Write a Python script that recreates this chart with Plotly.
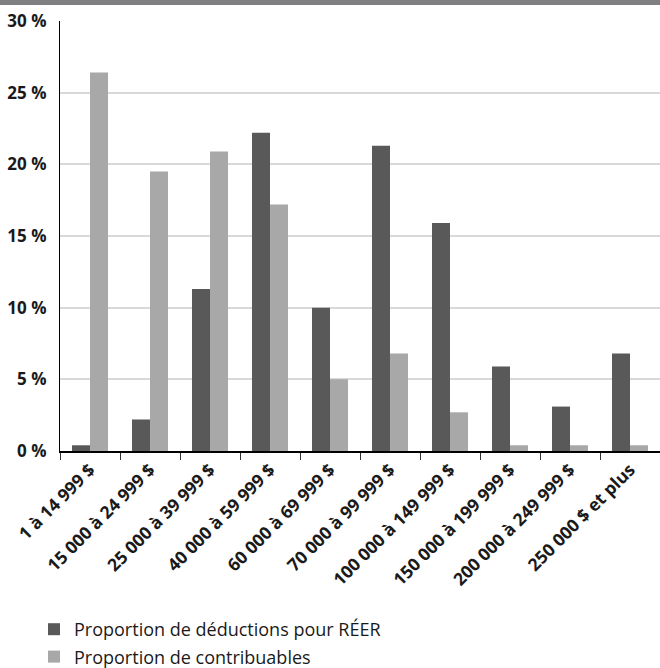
import plotly.graph_objects as go

categories = ["1 à 14 999 $", "15 000 à 24 999 $", "25 000 à 39 999 $", "40 000 à 59 999 $",
              "60 000 à 69 999 $", "70 000 à 99 999 $", "100 000 à 149 999 $",
              "150 000 à 199 999 $", "200 000 à 249 999 $", "250 000 $ et plus"]
deductions = [0.4, 2.2, 11.3, 22.2, 10.0, 21.3, 15.9, 5.9, 3.1, 6.8]
contribuables = [26.4, 19.5, 20.9, 17.2, 5.0, 6.8, 2.7, 0.4, 0.4, 0.4]
series_names = ["Proportion de déductions pour RÉER", "Proportion de contribuables"]
ytick_vals = [0, 5, 10, 15, 20, 25, 30]
ytick_text = ["0 %", "5 %", "10 %", "15 %", "20 %", "25 %", "30 %"]

W, H = 660, 668
ml, mr, mt, mb = 60, 0, 21, 217

fig = go.Figure()
fig.add_trace(go.Bar(x=categories, y=deductions, name=series_names[0], legendgroup="a",
                     marker=dict(color="#595959", line=dict(width=0))))
fig.add_trace(go.Bar(x=categories, y=contribuables, name=series_names[1], legendgroup="b",
                     marker=dict(color="#A8A8A8", line=dict(width=0))))

fig.update_layout(
    width=W, height=H,
    margin=dict(l=ml, r=mr, t=mt, b=mb, pad=0, autoexpand=False),
    paper_bgcolor="white", plot_bgcolor="white",
    barmode="group", bargap=0.4, bargroupgap=0,
    font=dict(family="Open Sans", color="#1a1a1a"),
    showlegend=True,
    legend=dict(xref="container", yref="container", x=34 / W, y=1 - 611 / H,
                xanchor="left", yanchor="top", orientation="v",
                font=dict(size=18, color="#1a1a1a"), tracegroupgap=1,
                itemsizing="constant"),
    shapes=[dict(type="rect", xref="paper", yref="paper",
                 x0=-ml / (W - ml - mr), x1=1,
                 y0=1 + (mt - 5) / (H - mt - mb), y1=1 + mt / (H - mt - mb) + 0.01,
                 fillcolor="#808083", line=dict(width=0), layer="above")],
)

fig.update_yaxes(range=[0, 30], tickvals=ytick_vals, ticktext=ytick_text,
                 showgrid=True, gridcolor="#d9d9d9", gridwidth=1.5,
                 showline=True, linecolor="black", linewidth=1.2,
                 ticks="", ticklabelstandoff=9,
                 tickfont=dict(size=17, family="Open Sans", weight="bold", color="#1a1a1a"),
                 zeroline=False)
fig.update_xaxes(tickangle=-45, showline=True, linecolor="black", linewidth=1.5,
                 ticks="outside", tickson="boundaries", ticklen=7, tickcolor="#333",
                 tickfont=dict(size=17.5, family="Open Sans", weight="bold", color="#1a1a1a"),
                 showgrid=False)

fig.write_html("out.html", config={"displayModeBar": False},
               post_script="document.body.style.margin='0';")
